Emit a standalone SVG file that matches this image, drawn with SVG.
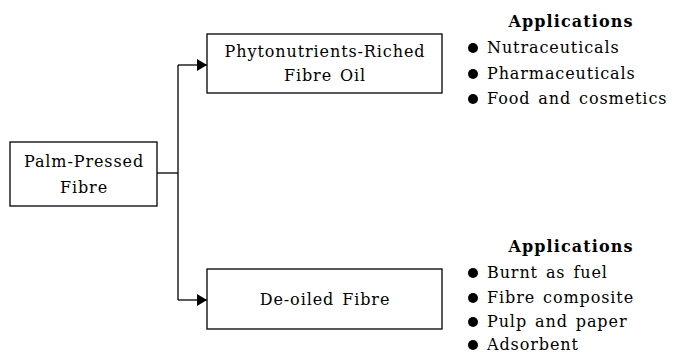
<svg xmlns="http://www.w3.org/2000/svg" width="673" height="353" viewBox="0 0 673 353">
<style>
.box{fill:#fff;stroke:#000;stroke-width:1.3}
.t{font-family:"DejaVu Serif","Liberation Serif",serif;font-size:16px;fill:#000;letter-spacing:0.9px;word-spacing:2px}
.c{text-anchor:middle}
.h{font-weight:bold;letter-spacing:1.1px}
.conn{fill:none;stroke:#000;stroke-width:1.3}
</style>
<defs>
<marker id="arr" markerWidth="11" markerHeight="13" refX="10" refY="6" orient="auto" markerUnits="userSpaceOnUse">
<path d="M0,0 L10,6 L0,12 Z" fill="#000"/>
</marker>
</defs>
<rect width="673" height="353" fill="#fff"/>
<g id="connectors">
<path class="conn" d="M157,173 H178"/>
<path class="conn" d="M178,65 V300"/>
<path class="conn" d="M178,65 H207" marker-end="url(#arr)"/>
<path class="conn" d="M178,300 H207" marker-end="url(#arr)"/>
</g>
<g id="palm">
<rect class="box" x="10" y="142" width="147" height="64"/>
<text class="t c" x="84" y="167">Palm-Pressed</text>
<text class="t c" x="84" y="193">Fibre</text>
</g>
<g id="oil">
<rect class="box" x="207" y="34" width="235" height="59"/>
<text class="t c" x="325" y="57">Phytonutrients-Riched</text>
<text class="t c" x="325" y="81">Fibre Oil</text>
</g>
<g id="deoiled">
<rect class="box" x="207" y="269" width="235" height="60"/>
<text class="t c" x="325" y="305">De-oiled Fibre</text>
</g>
<g id="apps1">
<text class="t c h" x="571" y="27">Applications</text>
<circle cx="473" cy="48" r="5"/>
<text class="t" x="487" y="53">Nutraceuticals</text>
<circle cx="473" cy="74" r="5"/>
<text class="t" x="487" y="79">Pharmaceuticals</text>
<circle cx="473" cy="99" r="5"/>
<text class="t" x="487" y="104">Food and cosmetics</text>
</g>
<g id="apps2">
<text class="t c h" x="571" y="252">Applications</text>
<circle cx="473" cy="273" r="5"/>
<text class="t" x="487" y="278">Burnt as fuel</text>
<circle cx="473" cy="298" r="5"/>
<text class="t" x="487" y="303">Fibre composite</text>
<circle cx="473" cy="322" r="5"/>
<text class="t" x="487" y="327">Pulp and paper</text>
<circle cx="473" cy="345" r="5"/>
<text class="t" x="487" y="350">Adsorbent</text>
</g>
</svg>
